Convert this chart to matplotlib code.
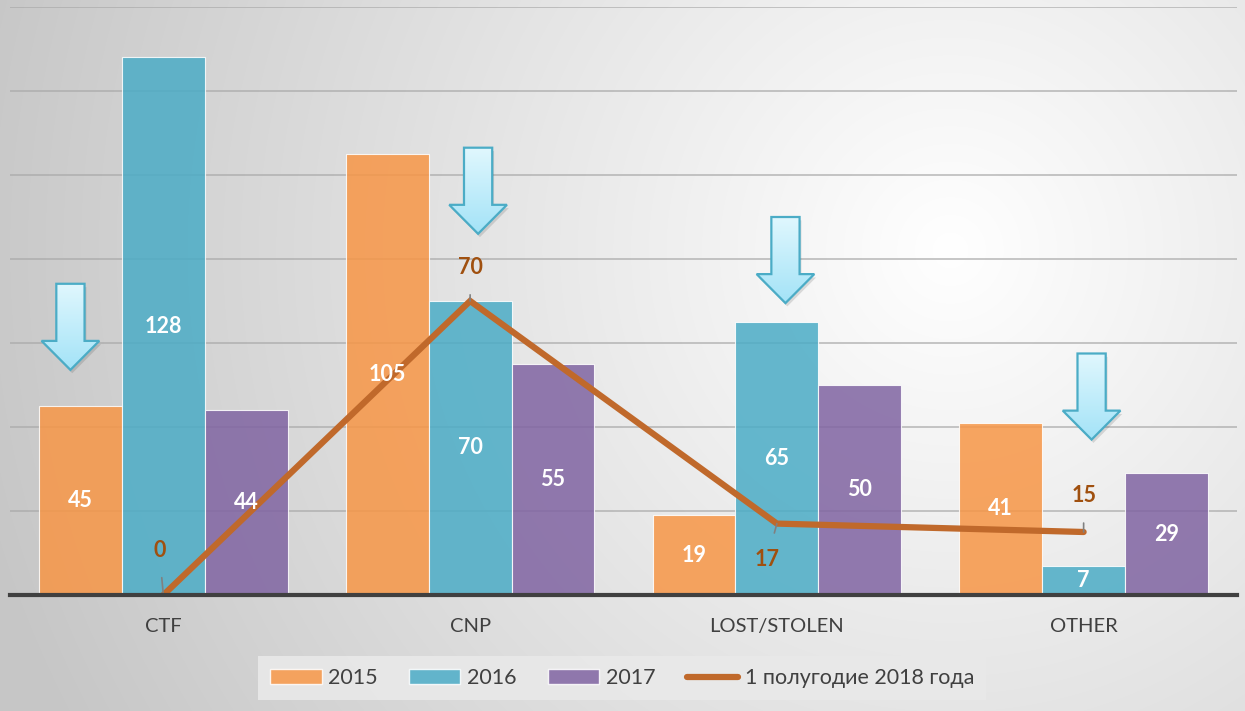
import numpy as np
import matplotlib
matplotlib.use("Agg")
import matplotlib.pyplot as plt
from matplotlib.patches import Polygon, Patch
from matplotlib.lines import Line2D

# ---- data ----
categories = ["CTF", "CNP", "LOST/STOLEN", "OTHER"]
series_names = ["2015", "2016", "2017"]
v2015 = [45, 105, 19, 41]
v2016 = [128, 70, 65, 7]
v2017 = [44, 55, 50, 29]
line_name = "1 полугодие 2018 года"
v2018h1 = [0, 70, 17, 15]
# decorative arrows: (category position, tip value)
arrow_x = [-0.303, 1.026, 2.028, 3.026]
arrow_tip = [53.6, 86.0, 69.5, 37.0]

colors = ["#F79646", "#4BACC6", "#8064A2"]
line_color = "#C0692B"
label_color = "#A0500F"

plt.rcParams['font.family'] = ['Lato', 'DejaVu Sans']

W, H = 1245, 711
fig = plt.figure(figsize=(W / 100, H / 100), dpi=100)

# background radial gradient
bg = fig.add_axes([0, 0, 1, 1], zorder=-10)
yy, xx = np.mgrid[0:H, 0:W]
d = np.sqrt((xx - 950) ** 2 + (yy - 250) ** 2)
val = np.clip(1 - 0.21 * d / 950, 0.78, 1)
bg.imshow(np.dstack([val, val, val]), extent=[0, 1, 0, 1], aspect='auto', origin='upper')
bg.axis('off')

ax = fig.add_axes([10 / W, (H - 595) / H, (1237 - 10) / W, (595 - 7) / H])
ax.set_facecolor('none')
x = np.arange(len(categories))
bw = 0.27
vals = [v2015, v2016, v2017]
for i, (v, c, n) in enumerate(zip(vals, colors, series_names)):
    ax.bar(x + (i - 1) * bw, v, bw, color=c, alpha=0.85, edgecolor=(1, 1, 1, 0.6),
           linewidth=0.8, zorder=3, label=n)
    for xi, vi in zip(x + (i - 1) * bw, v):
        ax.text(xi, vi / 2, str(vi), ha='center', va='center', color='white',
                fontsize=15.5, fontweight='bold', zorder=6)

ax.plot(x, v2018h1, color=line_color, lw=4.5, zorder=5, solid_capstyle='round',
        solid_joinstyle='miter')

# line labels with leader lines (offsets in points)
offs = [(-3, 32), (0, 24), (-7, -26), (0, 26)]
for xi, vi, (dx, dy) in zip(x, v2018h1, offs):
    ax.annotate(str(vi), xy=(xi, vi), xytext=(dx, dy), textcoords='offset points',
                ha='center', va='center', color=label_color, fontsize=15.5,
                fontweight='bold', zorder=7,
                arrowprops=dict(arrowstyle='-', color='#808080', lw=1.2,
                                shrinkA=10, shrinkB=0))

ax.set_xlim(-0.5, 3.5)
ax.set_ylim(0, 140)
ax.set_yticks(np.arange(20, 141, 20))
ax.yaxis.grid(True, color='#a8a8a8', lw=1.3, zorder=4, alpha=0.7)
ax.set_axisbelow(False)
ax.tick_params(axis='y', left=False, labelleft=False)
ax.tick_params(axis='x', bottom=False, labelsize=14.5, colors='#404040', pad=13)
ax.set_xticks(x)
ax.set_xticklabels(categories)
for s in ['top', 'right', 'left']:
    ax.spines[s].set_visible(False)
ax.spines['bottom'].set_color('#404040')
ax.spines['bottom'].set_linewidth(3)
ax.spines['bottom'].set_zorder(8)

# decorative arrows with gradient fill
sw, hw, hl, L = 0.046, 0.094, 6.9, 20.5
grad = np.linspace(0, 1, 100)[:, None]
c_top = np.array([0.88, 0.97, 0.995])
c_bot = np.array([0.64, 0.89, 0.97])
gimg = c_top[None, None, :] * (1 - grad[:, :, None]) + c_bot[None, None, :] * grad[:, :, None]
for cx, tip in zip(arrow_x, arrow_tip):
    pts = [(cx - sw, tip + L), (cx + sw, tip + L), (cx + sw, tip + hl), (cx + hw, tip + hl),
           (cx, tip), (cx - hw, tip + hl), (cx - sw, tip + hl)]
    shadow = Polygon([(px + 0.006, py - 0.8) for px, py in pts], closed=True,
                     facecolor=(0, 0, 0, 0.12), edgecolor='none', zorder=8)
    ax.add_patch(shadow)
    poly = Polygon(pts, closed=True, facecolor='none', edgecolor='#4BACC6', lw=1.6, zorder=10)
    ax.add_patch(poly)
    im = ax.imshow(gimg, extent=[cx - hw, cx + hw, tip, tip + L], origin='upper',
                   aspect='auto', zorder=9)
    im.set_clip_path(poly)
ax.set_xlim(-0.5, 3.5)
ax.set_ylim(0, 140)
ax.set_aspect('auto')

handles = [Patch(facecolor=c, alpha=0.85, edgecolor=(1, 1, 1, 0.6)) for c in colors]
handles.append(Line2D([0], [0], color=line_color, lw=4.5, solid_capstyle='round'))
leg = fig.legend(handles, series_names + [line_name], loc='center',
                 bbox_to_anchor=(622 / W, (H - 678) / H), ncol=4, fontsize=15.5,
                 frameon=True, fancybox=False, handlelength=2.4, handleheight=0.65,
                 handletextpad=0.3, columnspacing=1.45, borderpad=0.55,
                 borderaxespad=0)
leg.get_frame().set_facecolor('#e9e9e9')
leg.get_frame().set_edgecolor('none')
leg.get_frame().set_alpha(0.9)
for t in leg.get_texts():
    t.set_color('#404040')

fig.savefig('out.png', dpi=100)
